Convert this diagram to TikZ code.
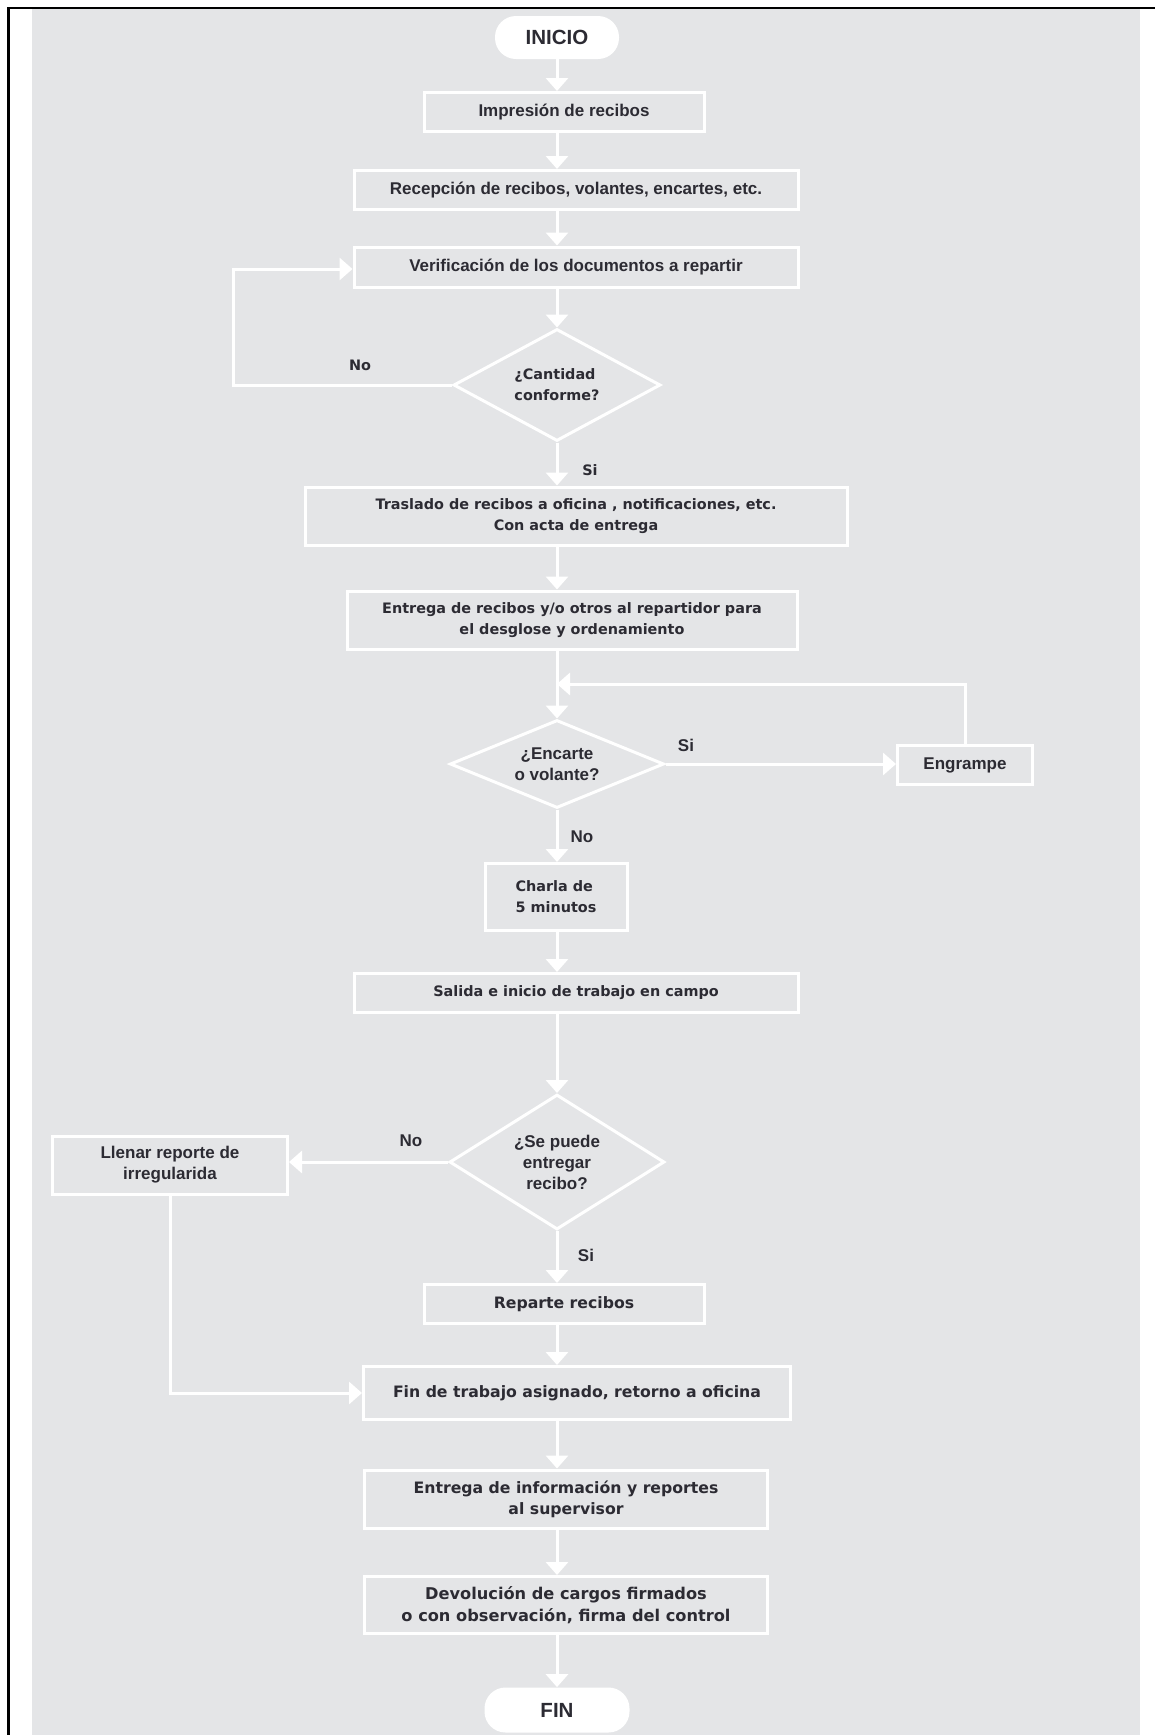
\documentclass[tikz,border=0pt]{standalone}
\usepackage{fontspec}
\setmainfont{Liberation Sans}
\newfontfamily\widefont{DejaVu Sans}
\newfontfamily\condfont{Liberation Sans}
\usetikzlibrary{shapes.geometric,arrows.meta}
\definecolor{bg}{HTML}{E4E5E7}
\definecolor{txt}{HTML}{2C2B33}
\tikzset{
  box/.style={draw=white, line width=1.5pt, fill=bg, text=txt, align=center, inner sep=0pt},
  wide/.style={font=\widefont\bfseries\fontsize{7.85}{10.5}\selectfont},
  widesm/.style={font=\widefont\bfseries\fontsize{7.2}{10.5}\selectfont},
  widelg/.style={font=\widefont\bfseries\fontsize{8.1}{10.8}\selectfont},
  cond/.style={font=\condfont\bfseries\fontsize{8.5}{10.5}\selectfont},
  dec/.style={box, diamond},
  term/.style={fill=white, text=txt, rounded corners=10.5pt, inner sep=0pt, font=\condfont\bfseries\fontsize{10.25}{12}\selectfont},
  arr/.style={draw=white, line width=1.5pt, -{Triangle[width=11pt,length=6.5pt]}},
  lbl/.style={text=txt, inner sep=0pt},
}
\begin{document}
\begin{tikzpicture}[x=0.5pt, y=-0.5pt]
\useasboundingbox (0,0) rectangle (1155,1735);
\fill[white] (0,0) rectangle (1155,1735);
\fill[bg] (32,9) rectangle (1140,1735);
\draw[line width=1.2pt, line join=miter] (8.5,1735) -- (8.5,8) -- (1155,8);

\coordinate (sp) at (557,0);

\node[term, minimum width=62pt, minimum height=21.5pt] (inicio) at (557,37.5) {INICIO};
\node[box, cond, minimum width=140pt, minimum height=19.5pt] (impr) at (564,112) {Impresión de recibos};
\node[box, cond, minimum width=222pt, minimum height=19.5pt] (recep) at (576,190) {Recepción de recibos, volantes, encartes, etc.};
\node[box, cond, minimum width=222pt, minimum height=20pt] (verif) at (576,267) {Verificación de los documentos a repartir};
\node[dec, widesm, align=left, minimum width=103.5pt, minimum height=56pt, shape aspect=1.85] (cant) at (557,385) {¿Cantidad\\conforme?};
\node[box, widesm, minimum width=271pt, minimum height=29pt] (trasl) at (576,516) {Traslado de recibos a oficina , notificaciones, etc.\\Con acta de entrega};
\node[box, widesm, minimum width=225pt, minimum height=29pt] (entr1) at (572,620) {Entrega de recibos y/o otros al repartidor para\\el desglose y ordenamiento};
\node[dec, cond, minimum width=107pt, minimum height=44pt, shape aspect=2.43] (encar) at (557,764) {¿Encarte\\o volante?};
\node[box, cond, minimum width=67.5pt, minimum height=19.5pt] (engr) at (965,765) {Engrampe};
\node[box, widesm, align=left, minimum width=71pt, minimum height=33.5pt] (charla) at (556,897) {Charla de\\5 minutos};
\node[box, widesm, minimum width=222pt, minimum height=19.5pt] (salida) at (576,993) {Salida e inicio de trabajo en campo};
\node[dec, cond, minimum width=107.5pt, minimum height=67.5pt, shape aspect=1.6] (sep) at (557,1162) {¿Se puede\\entregar\\recibo?};
\node[box, cond, minimum width=117.5pt, minimum height=29pt] (llen) at (170,1165) {Llenar reporte de\\irregularida};
\node[box, wide, minimum width=140pt, minimum height=19.5pt] (rep) at (564,1304) {Reparte recibos};
\node[box, wide, minimum width=213.5pt, minimum height=26.5pt] (fintr) at (577,1393) {Fin de trabajo asignado, retorno a oficina};
\node[box, wide, minimum width=201.5pt, minimum height=29pt] (entr2) at (566,1499) {Entrega de información y reportes\\al supervisor};
\node[box, widelg, minimum width=201.5pt, minimum height=28.5pt] (devol) at (566,1605) {Devolución de cargos firmados\\o con observación, firma del control};
\node[term, minimum width=72.5pt, minimum height=22.5pt] (fin) at (557,1710) {FIN};

\node[lbl, widesm] (no1) at (360,365) {No};
\node[lbl, widesm] (si1) at (590,470) {Si};
\node[lbl, cond] (si2) at (686,745) {Si};
\node[lbl, cond] (no2) at (582,837) {No};
\node[lbl, cond] (no3) at (411,1141) {No};
\node[lbl, cond] (si3) at (586,1255) {Si};

\coordinate (c1) at (233,269);
\coordinate (j1) at (557,684);

\draw[arr] (sp |- inicio.south) -- (sp |- impr.north);
\draw[arr] (sp |- impr.south) -- (sp |- recep.north);
\draw[arr] (sp |- recep.south) -- (sp |- verif.north);
\draw[arr] (sp |- verif.south) -- (cant.north);
\draw[arr] (cant.west) -| (c1) -- (verif.west |- c1);
\draw[arr] (cant.south) -- (sp |- trasl.north);
\draw[arr] (sp |- trasl.south) -- (sp |- entr1.north);
\draw[arr] (sp |- entr1.south) -- (encar.north);
\draw[arr] (encar.east) -- (engr.west |- encar.east);
\draw[arr] (engr.north) |- (j1);
\draw[arr] (encar.south) -- (sp |- charla.north);
\draw[arr] (sp |- charla.south) -- (sp |- salida.north);
\draw[arr] (sp |- salida.south) -- (sep.north);
\draw[arr] (sep.west) -- (llen.east |- sep.west);
\draw[arr] (sep.south) -- (sp |- rep.north);
\draw[arr] (sp |- rep.south) -- (sp |- fintr.north);
\draw[arr] (llen.south) |- (fintr.west);
\draw[arr] (sp |- fintr.south) -- (sp |- entr2.north);
\draw[arr] (sp |- entr2.south) -- (sp |- devol.north);
\draw[arr] (sp |- devol.south) -- (fin.north);
\end{tikzpicture}
\end{document}
